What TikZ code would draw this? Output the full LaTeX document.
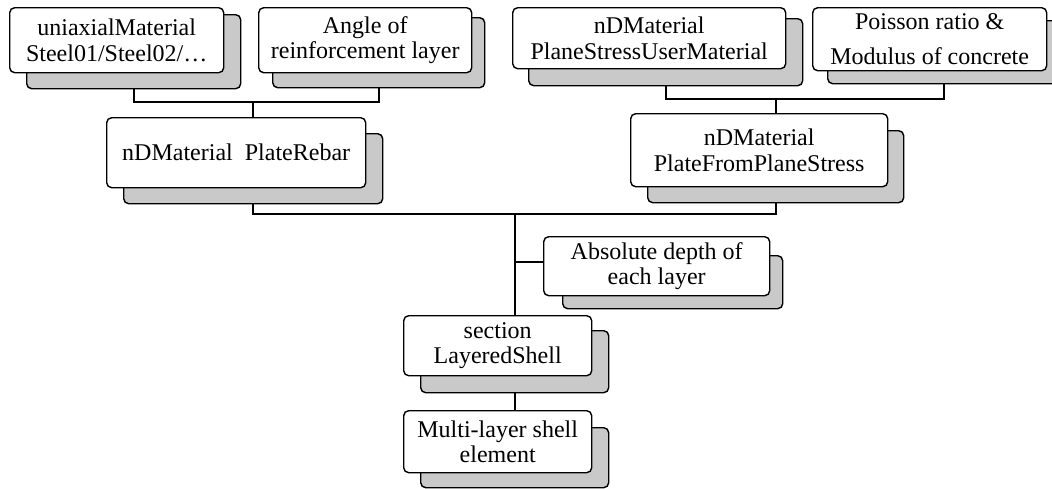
\documentclass[tikz,border=0pt]{standalone}
\usepackage{fontspec}
\setmainfont{Liberation Serif}
\begin{document}
\begin{tikzpicture}[x=1pt,y=-1pt,
 front/.style={draw, fill=white, rounded corners=5pt, line width=1.4pt, inner sep=0pt, align=center, font=\fontsize{24}{25.5}\selectfont, anchor=north west},
 shad/.style={draw, fill=black!21, rounded corners=5pt, line width=1.4pt, inner sep=0pt, anchor=north west},
 link/.style={line width=1.9pt}]
\useasboundingbox (0,0) rectangle (1052,488);
% box 1
\node[shad, minimum width=214pt, minimum height=74pt] (b1s) at (26,14) {};
\node[front, minimum width=214pt, minimum height=65pt] (b1) at (9,7) {uniaxialMaterial\\Steel01/Steel02/\ldots};
% box 2
\node[shad, minimum width=212pt, minimum height=70pt] (b2s) at (272,17) {};
\node[front, minimum width=213pt, minimum height=65pt] (b2) at (258,7) {Angle of\\reinforcement layer};
% box 3
\node[shad, minimum width=259pt, minimum height=70pt] (b3s) at (123,133) {};
\node[front, minimum width=259pt, minimum height=70pt] (b3) at (106,117) {nDMaterial\ \ PlateRebar};
% box 4
\node[shad, minimum width=274pt, minimum height=67pt] (b4s) at (528,18) {};
\node[front, minimum width=273pt, minimum height=61pt] (b4) at (512,7) {nDMaterial\\PlaneStressUserMaterial};
% box 5
\node[shad, minimum width=232pt, minimum height=63pt] (b5s) at (827,20) {};
\node[front, minimum width=234pt, minimum height=63pt, font=\fontsize{24}{35}\selectfont] (b5) at (812,7) {Poisson ratio \&\\Modulus of concrete};
% box 6
\node[shad, minimum width=256pt, minimum height=72pt] (b6s) at (647,130) {};
\node[front, minimum width=257pt, minimum height=73pt] (b6) at (630,113) {nDMaterial\\PlateFromPlaneStress};
% box 7
\node[shad, minimum width=220pt, minimum height=53pt] (b7s) at (562,255) {};
\node[front, minimum width=226pt, minimum height=59pt] (b7) at (543,236) {Absolute depth of\\each layer};
% box 8
\node[shad, minimum width=188pt, minimum height=62pt] (b8s) at (420,330) {};
\node[front, minimum width=188pt, minimum height=60pt] (b8) at (403,315) {section\\LayeredShell};
% box 9
\node[shad, minimum width=188pt, minimum height=60pt] (b9s) at (420,427) {};
\node[front, minimum width=188pt, minimum height=62pt] (b9) at (403,410) {Multi-layer shell\\element};
% connectors
\coordinate (h1) at (0,102);
\coordinate (h2) at (0,99);
\coordinate (h3) at (0,214);
\coordinate (h4) at (0,262);
\draw[link] (b1s.south) -- (b1s.south |- h1) -- (b2s.south |- h1) -- (b2s.south);
\draw[link] (b3s.north |- h1) -- (b3s.north |- b3.north);
\draw[link] (b4s.south) -- (b4s.south |- h2) -- (b5s.south |- h2) -- (b5s.south);
\draw[link] (b6s.north |- h2) -- (b6s.north |- b6.north);
\draw[link] (b3s.south) -- (b3s.south |- h3) -- (b6s.south |- h3) -- (b6s.south);
\draw[link] (b8s.north |- h3) -- (b8s.north |- b8.north);
\draw[link] (b8s.north |- h4) -- (b7.west |- h4);
\draw[link] (b8s.south) -- (b9s.north |- b9.north);
\end{tikzpicture}
\end{document}
